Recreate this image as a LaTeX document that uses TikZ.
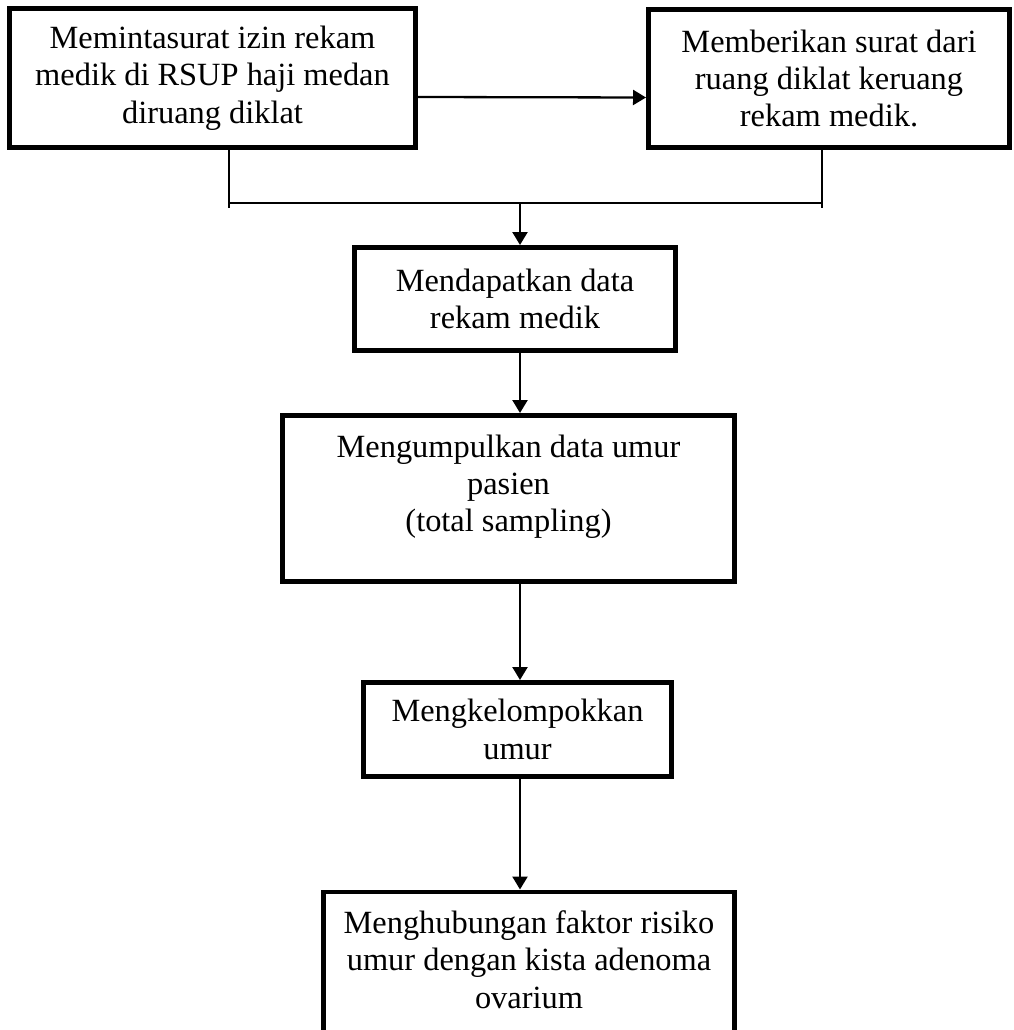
\documentclass[tikz,border=0pt]{standalone}
\usepackage{fontspec}
\setmainfont{Liberation Serif}
\usetikzlibrary{positioning,arrows.meta}
\tikzset{
box/.style={draw, line width=4.7pt, align=center, inner sep=0pt, font=\fontsize{32.4}{37.3}\selectfont},
link/.style={line width=1.3pt},
arr/.style={line width=2.3pt, -{Triangle[width=15pt,length=13pt]}}
}

\begin{document}
\begin{tikzpicture}[x=1pt, y=-1pt]
\useasboundingbox (0,0) rectangle (1013,1030);
\clip (0,0) rectangle (1013,1030);
\node[box, minimum width=406.3pt, minimum height=139.3pt] (izin) at (212.5,78)
    {Memintasurat izin rekam\\medik di RSUP haji medan\\diruang diklat};
\node[box, minimum width=361.3pt, minimum height=138.3pt] (surat) at (829,78.5)
    {Memberikan surat dari\\ruang diklat keruang\\rekam medik.};
\node[box, minimum width=321.3pt, minimum height=103.3pt] (data) at (515,299)
    {Mendapatkan data\\rekam medik};
\node[box, minimum width=452.3pt, minimum height=166.3pt] (umur) at (508.5,498.5)
    {Mengumpulkan data umur\\pasien\\(total sampling)\\[-7pt]\mbox{}};
\node[box, minimum width=308.3pt, minimum height=94.3pt] (kelompok) at (517.5,729.5)
    {Mengkelompokkan\\umur};
\node[box, minimum width=411.3pt, minimum height=166.3pt] (hubung) at (529,975)
    {Menghubungan faktor risiko\\umur dengan kista adenoma\\ovarium\\[-6pt]\mbox{}};
% join of the two first boxes
\coordinate (j1) at (229,208);
\coordinate (j2) at (822,208);
\coordinate (h1) at (229,203);
\coordinate (h2) at (822,203);
\coordinate (mid) at (520,203);
\draw[arr] ([yshift=-19pt]izin.east) -- ([yshift=-19pt]surat.west);
\draw[link] (j1 |- izin.south) -- (j1);
\draw[link] (j2 |- surat.south) -- (j2);
\draw[link] (h1) -- (h2);
\draw[arr] (mid) -- (mid |- data.north);
\draw[arr] (mid |- data.south) -- (mid |- umur.north);
\draw[arr] (mid |- umur.south) -- (mid |- kelompok.north);
\draw[arr] (mid |- kelompok.south) -- (mid |- hubung.north);
\end{tikzpicture}
\end{document}
